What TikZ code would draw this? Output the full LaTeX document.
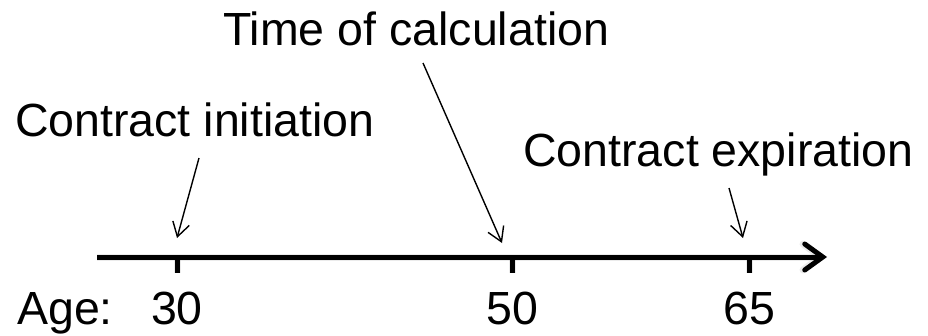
\documentclass[tikz,border=0pt]{standalone}
\usepackage{fontspec}
\setmainfont{Liberation Sans}
\usetikzlibrary{arrows.meta}
\begin{document}
\begin{tikzpicture}[x=1pt,y=-1pt,
  lbl/.style={inner sep=0pt, font=\fontsize{46.5}{50}\selectfont},
  pointer/.style={line width=1.4pt, -{Straight Barb[length=14pt,width=17pt,line width=1.4pt]}},
  axisline/.style={line width=5pt, -{Straight Barb[length=18pt,width=26pt,line width=5pt,line cap=round]}},
  shadowline/.style={line width=7pt, black, opacity=0.08, -{Straight Barb[length=18pt,width=26pt,line width=7pt,line cap=round]}},
  tick/.style={line width=5pt},
  shadowtick/.style={line width=7pt, black, opacity=0.08}]
\useasboundingbox (0,0) rectangle (928,335);
% axis coordinates
\coordinate (a0) at (97,257);
\coordinate (a1) at (827,257);
\coordinate (t30) at (177,257);
\coordinate (t50) at (512,257);
\coordinate (t65) at (749,257);
\coordinate (t30b) at (177,273);
\coordinate (t50b) at (512,273);
\coordinate (t65b) at (749,273);
% soft shadow
\begin{scope}[shift={(2,4)}]
\draw[shadowline] (a0) -- (a1);
\draw[shadowtick] (t30) -- (t30b);
\draw[shadowtick] (t50) -- (t50b);
\draw[shadowtick] (t65) -- (t65b);
\end{scope}
% axis
\draw[axisline] (a0) -- (a1);
\draw[tick] (t30) -- (t30b);
\draw[tick] (t50) -- (t50b);
\draw[tick] (t65) -- (t65b);
% labels
\node[lbl, anchor=base west] (calc) at (223,45) {Time of calculation};
\node[lbl, anchor=base west] (init) at (15,136) {Contract initiation};
\node[lbl, anchor=base west] (expi) at (523,166) {Contract expiration};
\node[lbl, anchor=base west] (age) at (17,324) {Age:};
\node[lbl, anchor=base] (n30) at (177,324) {30};
\node[lbl, anchor=base] (n50) at (512,324) {50};
\node[lbl, anchor=base] (n65) at (749,324) {65};
% pointers
\coordinate (p1s) at (199,158);
\coordinate (p1e) at (177,238);
\coordinate (p2s) at (423,63);
\coordinate (p2e) at (502,243);
\coordinate (p3s) at (729,188);
\coordinate (p3e) at (743,238);
\draw[pointer] (p1s) -- (p1e);
\draw[pointer] (p2s) -- (p2e);
\draw[pointer] (p3s) -- (p3e);
\end{tikzpicture}
\end{document}
